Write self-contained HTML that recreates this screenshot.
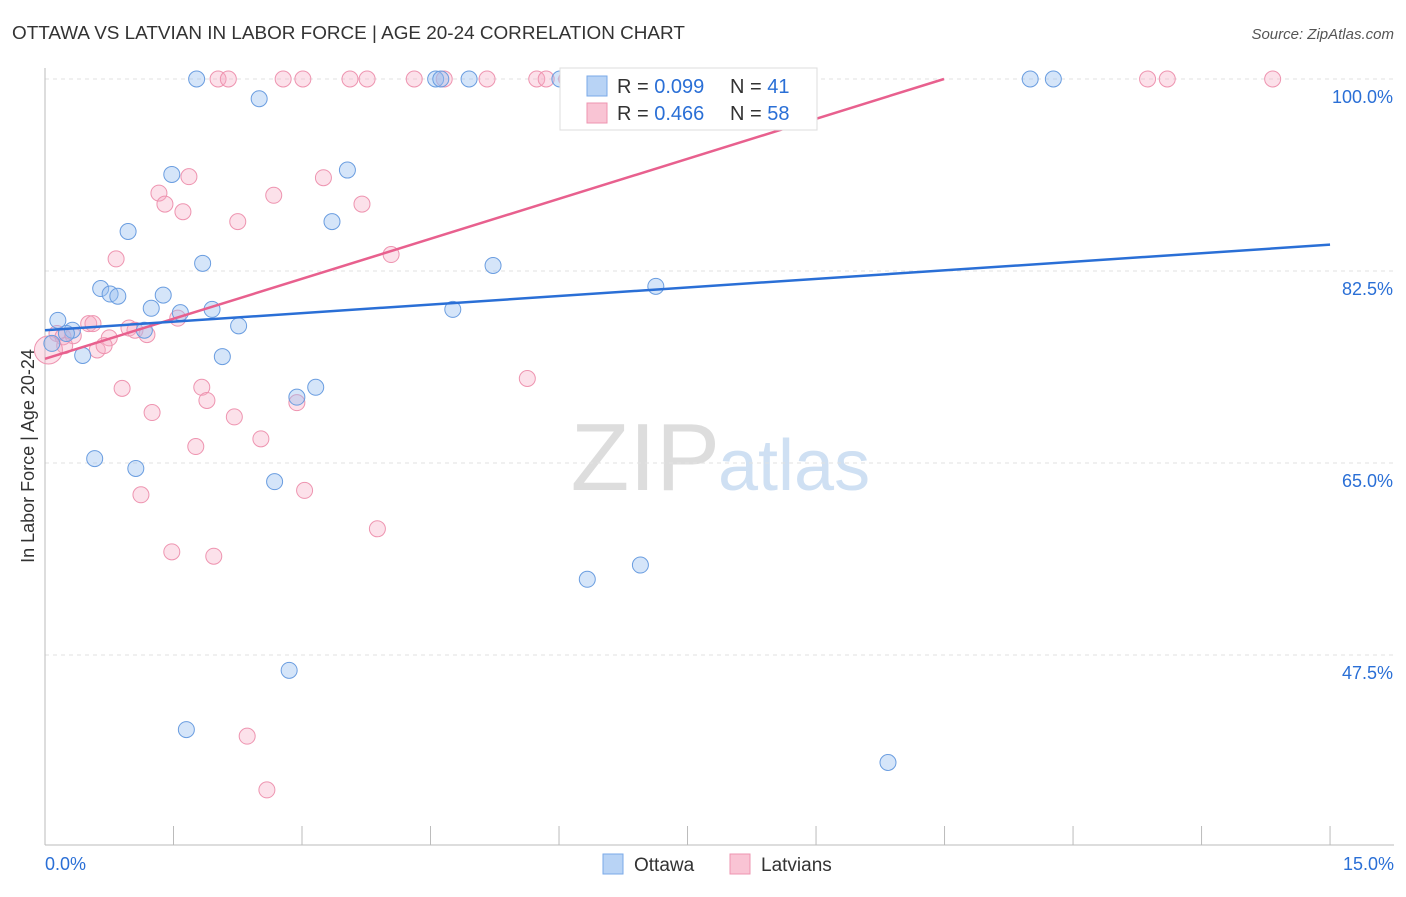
<!DOCTYPE html>
<html><head><meta charset="utf-8"><style>
body{margin:0;background:#fff;font-family:"Liberation Sans",sans-serif}
svg text{font-family:"Liberation Sans",sans-serif}
</style></head><body>
<svg id="c" width="1406" height="892">
<text x="12" y="39" font-size="18.9" fill="#333">OTTAWA VS LATVIAN IN LABOR FORCE | AGE 20-24 CORRELATION CHART</text>
<text x="1394" y="39" font-size="15" fill="#555" font-style="italic" text-anchor="end">Source: ZipAtlas.com</text>
<text x="720" y="490" font-size="96" fill="#ddd" font-family="Liberation Serif" text-anchor="end">ZIP</text>
<text x="718" y="490" font-size="72" fill="#cfe0f3">atlas</text>
<text transform="translate(34,456) rotate(-90)" font-size="18" fill="#333" text-anchor="middle">In Labor Force | Age 20-24</text>
<g id="grid"></g><g id="marks"></g>
<g>
<rect x="560" y="68" width="257" height="62" fill="#fff" stroke="#ddd"/>
<rect x="587" y="76" width="20" height="20" fill="#b8d3f5" stroke="#7aaae8"/>
<rect x="587" y="103" width="20" height="20" fill="#f9c4d4" stroke="#ee94b0"/>
<text x="617" y="93" font-size="20" fill="#333">R = <tspan fill="#2a6fd6">0.099</tspan></text>
<text x="730" y="93" font-size="20" fill="#333">N = <tspan fill="#2a6fd6">41</tspan></text>
<text x="617" y="120" font-size="20" fill="#333">R = <tspan fill="#2a6fd6">0.466</tspan></text>
<text x="730" y="120" font-size="20" fill="#333">N = <tspan fill="#2a6fd6">58</tspan></text>
</g>
<g>
<rect x="603" y="854" width="20" height="20" fill="#b8d3f5" stroke="#7aaae8"/>
<text x="634" y="871" font-size="19" fill="#333">Ottawa</text>
<rect x="730" y="854" width="20" height="20" fill="#f9c4d4" stroke="#ee94b0"/>
<text x="761" y="871" font-size="19" fill="#333">Latvians</text>
</g>
</svg>
<script>
const yTicks=[100,82.5,65,47.5];
const yTickLabels=["100.0%","82.5%","65.0%","47.5%"];
const xTicks=[0,1.5,3,4.5,6,7.5,9,10.5,12,13.5,15];
const ottawaX=[1.77,2.50,4.56,4.62,4.95,6.01,11.50,11.77,1.48,3.53,3.35,0.97,1.84,5.23,7.13,0.65,0.76,0.85,1.38,1.24,1.58,1.95,4.76,0.15,0.32,1.16,2.26,0.08,0.25,0.44,2.07,3.16,2.94,0.58,1.06,2.68,6.33,6.95,2.85,1.65,9.84];
const ottawaY=[100,98.2,100,100,100,100,100,100,91.3,91.7,87.0,86.1,83.2,83.0,81.1,80.9,80.4,80.2,80.3,79.1,78.7,79.0,79.0,78.0,77.1,77.1,77.5,75.9,76.8,74.8,74.7,71.9,71.0,65.4,64.5,63.3,54.4,55.7,46.1,40.7,37.7];
const latX=[2.02,2.14,2.78,3.01,3.56,3.76,4.31,4.66,5.16,5.74,5.85,6.09,12.87,13.10,14.33,1.68,1.33,1.40,1.61,2.67,3.25,3.70,2.25,4.04,0.83,1.55,0.51,0.56,0.98,1.05,1.19,0.75,0.14,0.21,0.33,0.23,0.61,0.69,0.04,0.90,1.83,1.89,2.94,5.63,1.25,2.21,2.52,1.76,3.03,1.12,3.88,1.48,1.97,2.36,2.59];
const latY=[100,100,100,100,100,100,100,100,100,100,100,100,100,100,100,91.1,89.6,88.6,87.9,89.4,91.0,88.6,87.0,84.0,83.6,78.2,77.7,77.7,77.3,77.1,76.7,76.4,76.8,76.5,76.6,75.7,75.3,75.7,75.3,71.8,71.9,70.7,70.5,72.7,69.6,69.2,67.2,66.5,62.5,62.1,59.0,56.9,56.5,40.1,35.2];
const ottawaTrend=[77.1,0.52];
const latTrend=[74.5,2.43];
const X=v=>45+v*85.67, Y=v=>79+(100-v)*10.971;
const NS="http://www.w3.org/2000/svg";
function mk(t,a,p){const e=document.createElementNS(NS,t);for(const k in a)e.setAttribute(k,a[k]);p.appendChild(e);return e;}
const g=document.getElementById('grid'), m=document.getElementById('marks');
yTicks.forEach((t,i)=>{
 const l=mk('line',{x1:45,x2:1394,y1:Y(t),y2:Y(t),stroke:'#e2e2e2','stroke-dasharray':'4,4'},g);
 
 
 const tx=mk('text',{x:1393,y:Y(t)+24,'font-size':18,fill:'#2a6fd6','text-anchor':'end'},g);tx.textContent=yTickLabels[i];
 
 
});
const ax=mk('line',{x1:45,x2:45,y1:68,y2:845,stroke:'#bbb'},g);


const bx=mk('line',{x1:45,x2:1394,y1:845,y2:845,stroke:'#bbb'},g);


xTicks.forEach(t=>{const l=mk('line',{x1:X(t),x2:X(t),y1:826,y2:845,stroke:'#bbb'},g);
 
 });
const t0=mk('text',{x:45,y:870,'font-size':18,fill:'#2a6fd6'},g);t0.textContent='0.0%';


const t1=mk('text',{x:1394,y:870,'font-size':18,fill:'#2a6fd6','text-anchor':'end'},g);t1.textContent='15.0%';


latX.forEach((x,i)=>{const c=mk('circle',{cx:X(x),cy:Y(latY[i]),r:i==38?14:8,fill:'rgba(246,170,196,0.35)',stroke:'#ee94b0','stroke-width':1},m);
 
 });
ottawaX.forEach((x,i)=>{const c=mk('circle',{cx:X(x),cy:Y(ottawaY[i]),r:8,fill:'rgba(150,190,240,0.4)',stroke:'#6a9de0','stroke-width':1},m);
 
 });
const xe=Math.min(15,(100-latTrend[0])/latTrend[1]);
const lp=mk('line',{x1:X(0),y1:Y(latTrend[0]),x2:X(xe),y2:Y(latTrend[0]+latTrend[1]*xe),stroke:'#e8608e','stroke-width':2.5},m);


const lb=mk('line',{x1:X(0),y1:Y(ottawaTrend[0]),x2:X(15),y2:Y(ottawaTrend[0]+ottawaTrend[1]*15),stroke:'#2a6fd6','stroke-width':2.5},m);


</script>
</body></html>
